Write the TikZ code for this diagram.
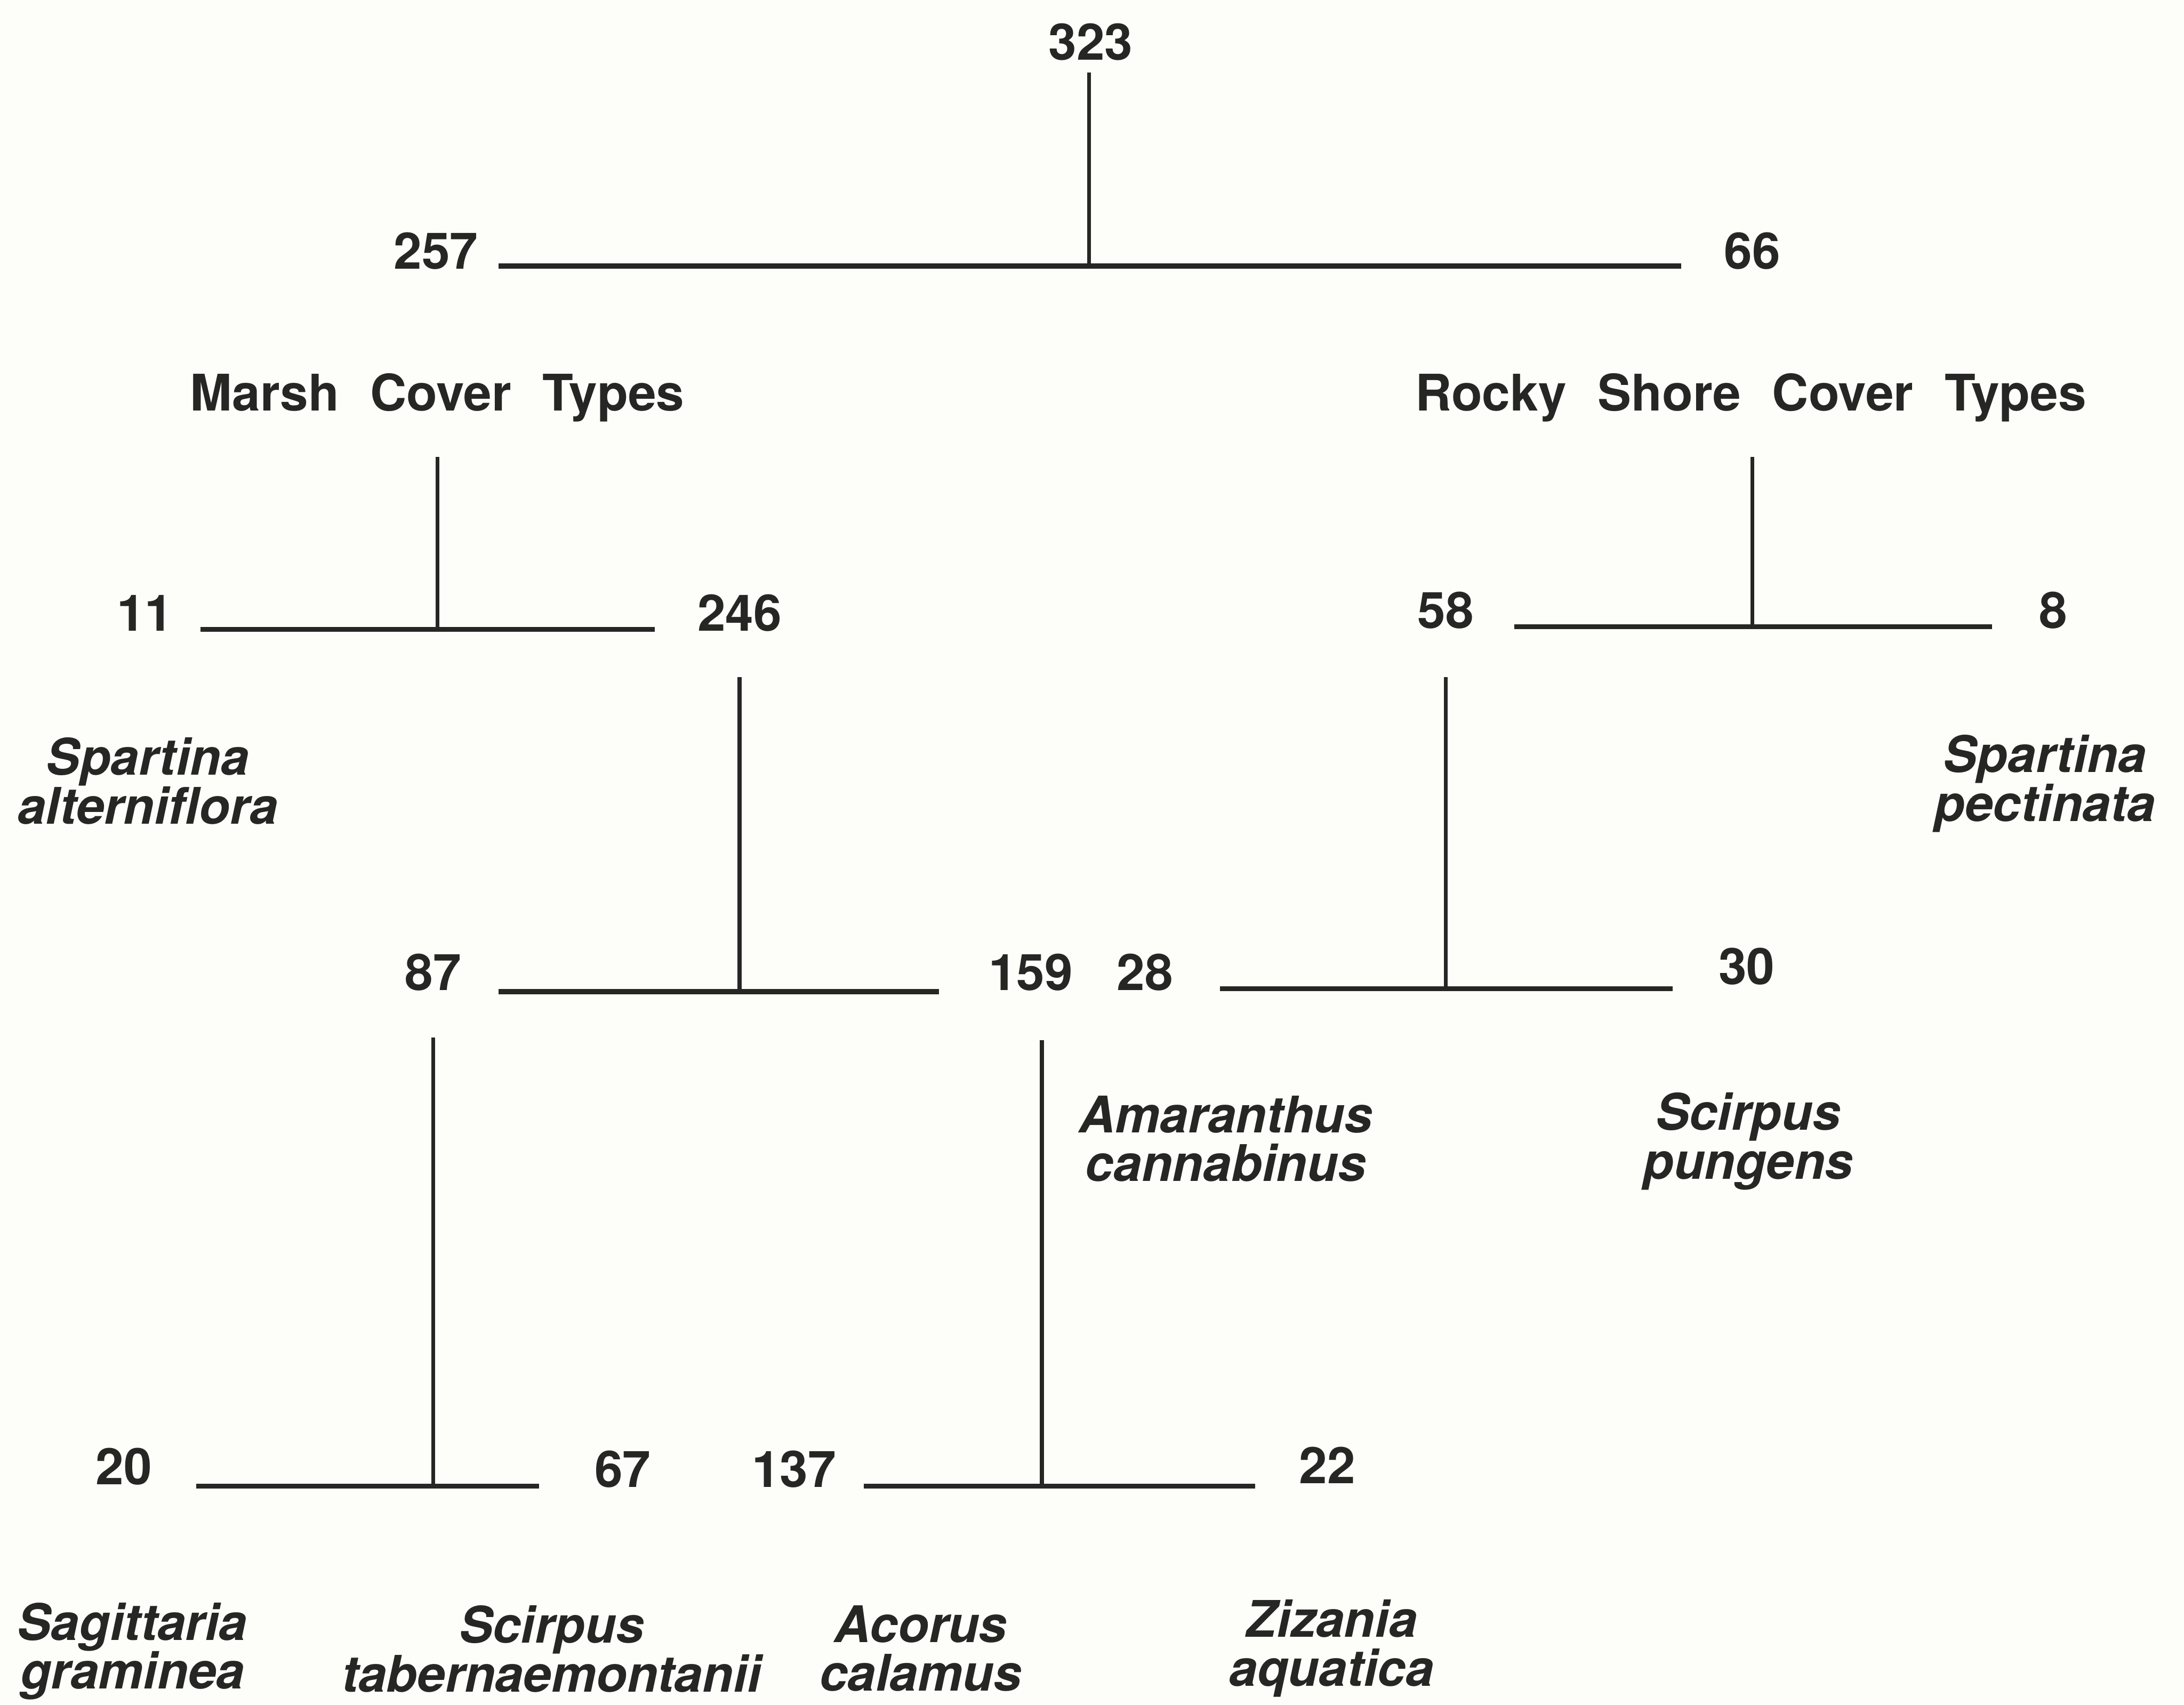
\documentclass[tikz,border=0pt]{standalone}
\usepackage{fontspec}
\setmainfont{TeX Gyre Heros}
\definecolor{ink}{RGB}{38,38,36}
\definecolor{paper}{RGB}{253,253,250}
\begin{document}
\begin{tikzpicture}[x=0.01cm,y=-0.01cm,
  num/.style={inner sep=0pt, anchor=base, text=ink, font=\bfseries\fontsize{10.3}{10}\selectfont},
  head/.style={num},
  spec/.style={inner sep=0pt, anchor=north, align=center, text=ink, font=\bfseries\itshape\fontsize{10.3}{10}\selectfont},
  bar/.style={draw=ink, line width=1.0pt},
  stem/.style={draw=ink, line width=0.8pt}]
\path[use as bounding box, fill=paper] (0,0) rectangle (1568,1224);

% labels
\node[num] (n323) at (783,43) {323};
\node[num] (n257) at (313,193) {257};
\node[num] (n66) at (1258,193) {66};
\node[head] (marsh) at (314,295) {Marsh\hspace{0.62em}Cover\hspace{0.62em}Types};
\node[head] (rocky) at (1257,295) {Rocky\hspace{0.62em}Shore\hspace{0.62em}Cover\hspace{0.62em}Types};
\node[num] (n11) at (104,453) {11};
\node[num] (n246) at (531,453) {246};
\node[num] (n58) at (1038,451) {58};
\node[num] (n8) at (1474,451) {8};
\node[num] (n87) at (311,711) {87};
\node[num] (n159) at (740,711) {159};
\node[num] (n28) at (822,711) {28};
\node[num] (n30) at (1254,707) {30};
\node[num] (n20) at (89,1066) {20};
\node[num] (n67) at (447,1068) {67};
\node[num] (n137) at (570,1068) {137};
\node[num] (n22) at (953,1065) {22};

\node[spec] (spalt) at (106,529) {Spartina\\alterniflora};
\node[spec] (sppec) at (1468,527) {Spartina\\pectinata};
\node[spec] (amcan) at (880,786) {Amaranthus\\cannabinus};
\node[spec] (scpun) at (1255,784) {Scirpus\\pungens};
\node[spec] (saggr) at (95,1150) {Sagittaria\\graminea};
\node[spec] (sctab) at (396,1152) {Scirpus\\tabernaemontanii};
\node[spec] (accal) at (661,1152) {Acorus\\calamus};
\node[spec] (ziaq) at (956,1148) {Zizania\\aquatica};

% junction coordinates
\coordinate (t1) at (782,52);   \coordinate (j1) at (782,191);
\coordinate (b1l) at (358,191); \coordinate (b1r) at (1207,191);
\coordinate (t2) at (314,328);  \coordinate (j2) at (314,452);
\coordinate (b2l) at (144,452); \coordinate (b2r) at (470,452);
\coordinate (t3) at (531,486);  \coordinate (j3) at (531,712);
\coordinate (b3l) at (358,712); \coordinate (b3r) at (674,712);
\coordinate (t4) at (1258,328); \coordinate (j4) at (1258,450);
\coordinate (b4l) at (1087,450);\coordinate (b4r) at (1430,450);
\coordinate (t5) at (1038,486); \coordinate (j5) at (1038,710);
\coordinate (b5l) at (876,710); \coordinate (b5r) at (1201,710);
\coordinate (t6) at (311,745);  \coordinate (j6) at (311,1067);
\coordinate (b6l) at (141,1067);\coordinate (b6r) at (387,1067);
\coordinate (t7) at (748,747);  \coordinate (j7) at (748,1067);
\coordinate (b7l) at (620,1067);\coordinate (b7r) at (901,1067);

% connectors
\foreach \i in {1,...,7} {
  \draw[bar] (b\i l) -- (b\i r);
  \draw[stem] (t\i) -- (j\i);
}
\end{tikzpicture}
\end{document}
